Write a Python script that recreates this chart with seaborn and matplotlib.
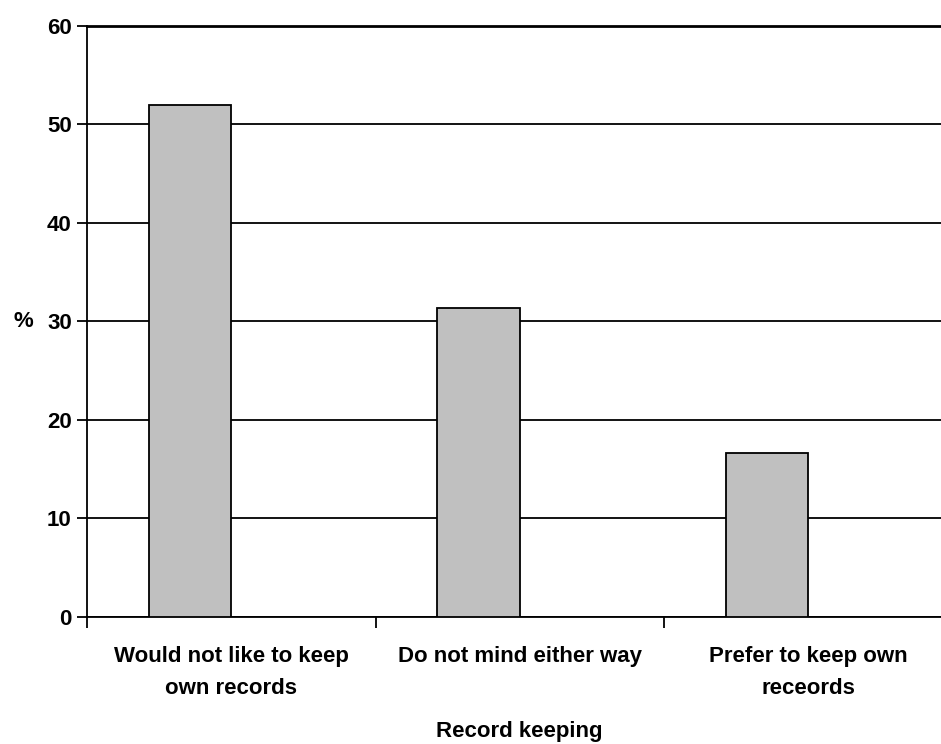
import matplotlib
matplotlib.use("Agg")
import pandas as pd
import seaborn as sns
import matplotlib.pyplot as plt

# values
categories = ["Would not like to keep\nown records", "Do not mind either way", "Prefer to keep own\nreceords"]
percent = [52.0, 31.4, 16.6]
series = ["Record keeping", "Record keeping", "Record keeping"]
yticks = [0, 10, 20, 30, 40, 50, 60]

df = pd.DataFrame({"category": categories, "percent": percent, "series": series})

sns.set_style("white")
plt.rcParams["font.family"] = ["Liberation Sans", "DejaVu Sans"]
plt.rcParams["font.weight"] = "bold"
plt.rcParams["text.color"] = "black"
plt.rcParams["xtick.color"] = "black"
plt.rcParams["ytick.color"] = "black"
plt.rcParams["axes.labelcolor"] = "black"

fig = plt.figure(figsize=(9.41, 7.44), dpi=100)
ax = fig.add_axes([87 / 941, 1 - 617 / 744, 865.5 / 941, 591.3 / 744])

# Excel-style clustered bar with an empty second series -> bars sit left of centre
sns.barplot(data=df, x="category", y="percent", hue="series",
            hue_order=["Record keeping", "empty"], width=0.5714, gap=0, dodge=True,
            palette=["#C0C0C0", "#C0C0C0"], edgecolor="black", linewidth=1.3,
            legend=False, ax=ax, zorder=3)

ax.set_xlim(-0.5, 2.5)
ax.set_ylim(0, 60)
ax.set_yticks(yticks)
ax.yaxis.grid(True, color="black", linewidth=1.3)
ax.set_axisbelow(True)

for s in ["left", "bottom", "top"]:
    ax.spines[s].set_visible(True)
    ax.spines[s].set_color("black")
    ax.spines[s].set_linewidth(1.3)
ax.spines["top"].set_linewidth(2)
ax.spines["right"].set_visible(False)

ax.tick_params(axis="y", direction="out", length=7, width=1.3,
               labelsize=16, pad=4, left=True)
ax.set_xticks([-0.5, 0.5, 1.5, 2.5], minor=True)
ax.tick_params(axis="x", which="major", length=0, labelsize=16, pad=21)
ax.tick_params(axis="x", which="minor", direction="out", length=8, width=1.3,
               bottom=True)
for lab in ax.get_xticklabels():
    lab.set_linespacing(1.65)

ax.set_ylabel("%", rotation=0, fontsize=16, fontweight="bold", ha="center", va="center")
ax.yaxis.set_label_coords(-0.073, 0.5)
ax.set_xlabel("Record keeping", fontsize=16, fontweight="bold", labelpad=16)

fig.savefig("out.png", dpi=100)
